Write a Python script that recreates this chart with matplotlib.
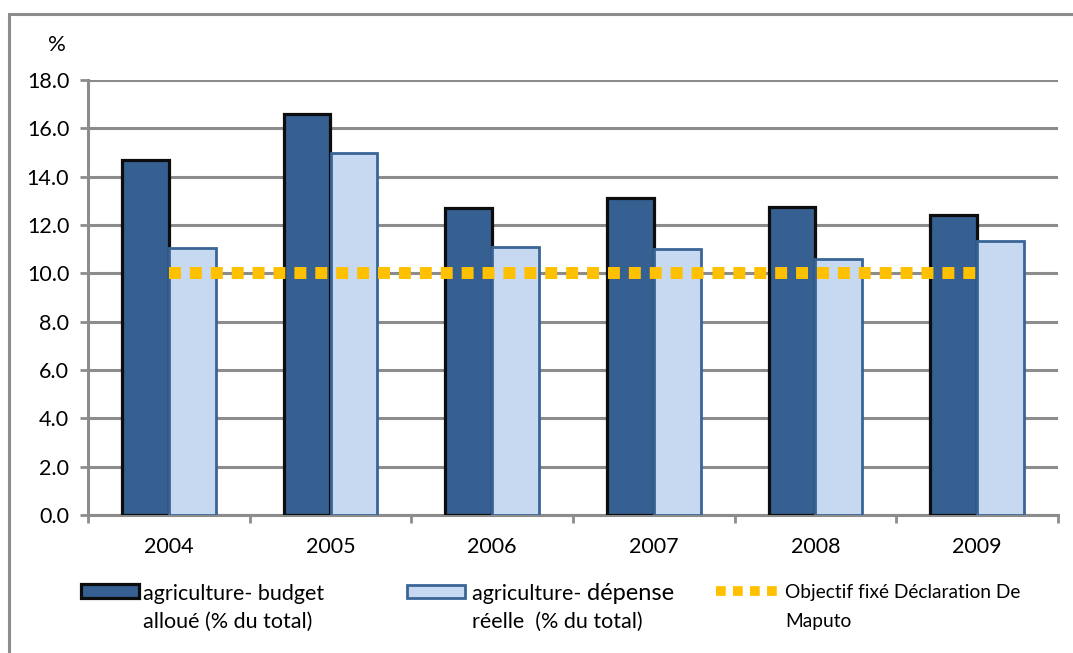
import matplotlib
matplotlib.use("Agg")
import matplotlib.pyplot as plt
from matplotlib.patches import Rectangle
from matplotlib.lines import Line2D
import numpy as np

years = ["2004", "2005", "2006", "2007", "2008", "2009"]
budget_alloue = [14.7, 16.6, 12.7, 13.1, 12.75, 12.4]
depense_reelle = [11.05, 15.0, 11.1, 11.0, 10.6, 11.35]
objectif_maputo = [10.0, 10.0, 10.0, 10.0, 10.0, 10.0]
yticks = [0, 2, 4, 6, 8, 10, 12, 14, 16, 18]

plt.rcParams['font.family'] = ['Lato', 'DejaVu Sans']

W, H = 1073, 653
fig = plt.figure(figsize=(W / 100, H / 100), dpi=100)

def fx(px):
    return px / W

def fy(py):
    return 1 - py / H

# outer frame
fig.patches.append(Rectangle((fx(9), fy(700)), fx(1200), fy(14) - fy(700),
                             transform=fig.transFigure, fill=False,
                             edgecolor='#8c8c8c', linewidth=2.2, zorder=0))

ax = fig.add_axes([fx(88), fy(515), fx(1058) - fx(88), fy(80) - fy(515)])
x = np.arange(len(years))
w = 0.29
dark = '#366092'
light = '#C6D9F1'
ax.bar(x - w / 2, budget_alloue, width=w, color=dark, edgecolor='#0d0d0d',
       linewidth=2.3, zorder=3)
ax.bar(x + w / 2, depense_reelle, width=w, color=light, edgecolor='#3A6596',
       linewidth=2.0, zorder=3)
ax.plot(x, objectif_maputo, color='#FFC000', linewidth=8.6,
        linestyle=(0, (1.0, 0.75)), solid_capstyle='butt',
        dash_capstyle='butt', zorder=4)

ax.set_xlim(-0.5, len(years) - 0.5)
ax.set_ylim(0, 18)
ax.set_yticks(yticks)
ax.set_yticklabels([f"{v:.1f}" for v in yticks], fontsize=15.5)
ax.yaxis.grid(True, color='#8c8c8c', linewidth=2.2, zorder=0)
ax.set_axisbelow(True)
ax.set_xticks(x)
ax.set_xticklabels(years, fontsize=15.5)
ax.set_xticks(np.arange(-0.5, len(years)), minor=True)
ax.tick_params(axis='x', which='major', length=0, pad=16)
ax.tick_params(axis='x', which='minor', length=5.5, width=2, color='#8c8c8c',
               direction='out')
ax.tick_params(axis='y', length=5.5, width=2, color='#8c8c8c', pad=8)
for s in ['top', 'right']:
    ax.spines[s].set_visible(False)
for s in ['left', 'bottom']:
    ax.spines[s].set_color('#8c8c8c')
    ax.spines[s].set_linewidth(2.2)

fig.text(fx(57), fy(45), "%", fontsize=16, ha='center', va='center')

# legend
fig.patches.append(Rectangle((fx(81), fy(598)), fx(58), fy(584) - fy(598),
                             transform=fig.transFigure, facecolor=dark,
                             edgecolor='#0d0d0d', linewidth=2.3))
fig.patches.append(Rectangle((fx(407), fy(598)), fx(58), fy(585) - fy(598),
                             transform=fig.transFigure, facecolor=light,
                             edgecolor='#3A6596', linewidth=2.0))
fig.lines.append(Line2D([fx(716), fx(782)], [fy(591), fy(591)],
                        transform=fig.transFigure, color='#FFC000',
                        linewidth=7, linestyle=(0, (1.0, 0.75)),
                        dash_capstyle='butt'))

fig.text(fx(143), fy(600), "agriculture- budget", fontsize=15.5, va='baseline')
fig.text(fx(143), fy(628), "alloué (% du total)", fontsize=15.5, va='baseline')

t2 = fig.text(fx(472), fy(600), "agriculture- ", fontsize=15.5, va='baseline')
ax.annotate("dépense", xy=(1, 0), xycoords=t2, fontsize=17, va='bottom',
            ha='left')
fig.text(fx(472), fy(628), "réelle  (% du total)", fontsize=15.5, va='baseline')

fig.text(fx(785), fy(598), "Objectif fixé Déclaration De", fontsize=13.8,
         va='baseline')
fig.text(fx(785), fy(627), "Maputo", fontsize=13.8, va='baseline')

fig.savefig("out.png", dpi=100)
